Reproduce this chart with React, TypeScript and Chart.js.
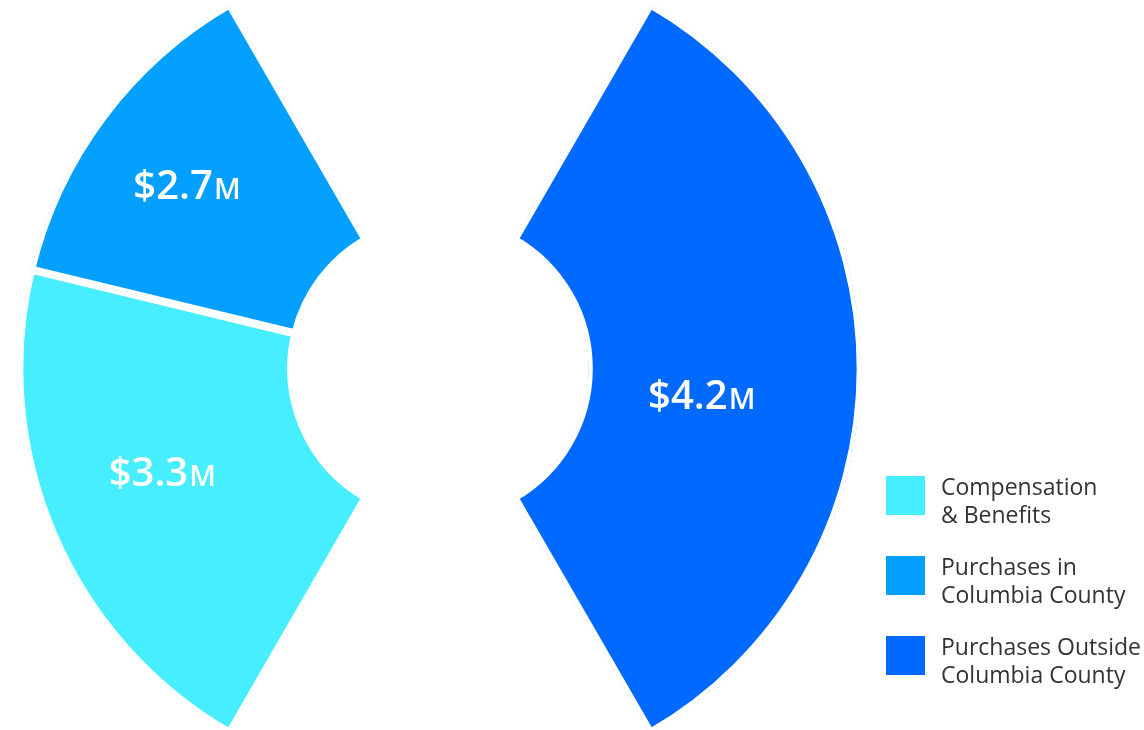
import { useEffect, useRef } from 'react';
import { Chart, registerables } from 'chart.js';

Chart.register(...registerables);

// ---- data ----
const categories: string[][] = [
  ['Compensation', '& Benefits'],
  ['Purchases in', 'Columbia County'],
  ['Purchases Outside', 'Columbia County'],
];
const amounts = [3.3, 2.7, 4.2]; // $ millions
const sweepDegrees = [73.6, 46.4, 120]; // angular share each slice takes in the picture
const gapDegrees = [60, 60]; // empty wedges between the two fans
const colors = ['#47EEFF', '#03A0FF', '#0069FF'];

// ---- styling ----
const labelNudges = [
  [-16, -9],
  [-25, -13],
  [-23, 26],
];
const FONT = '"Open Sans", "Noto Sans", sans-serif';

// ring order: slice0, slice1, gap, slice2, gap
const ringOrder = [0, 1, -1, 2, -1];

export default function App() {
  const ref = useRef<HTMLCanvasElement | null>(null);

  useEffect(() => {
    const canvas = ref.current;
    if (!canvas) return;
    let gi = 0;
    const data = ringOrder.map((ci) => (ci >= 0 ? sweepDegrees[ci] : gapDegrees[gi++]));
    const bg = ringOrder.map((ci) => (ci >= 0 ? colors[ci] : 'rgba(0,0,0,0)'));
    const bw = ringOrder.map((ci) => (ci >= 0 ? 4 : 0));

    const labelPlugin = {
      id: 'sliceLabels',
      afterDatasetsDraw(chart: any) {
        const meta = chart.getDatasetMeta(0);
        const ctx = chart.ctx as CanvasRenderingContext2D;
        ctx.save();
        ctx.fillStyle = '#ffffff';
        ctx.textBaseline = 'alphabetic';
        ctx.textAlign = 'left';
        ringOrder.forEach((ci, i) => {
          if (ci < 0) return;
          const el = meta.data[i];
          const p = el.tooltipPosition(false);
          const cx = p.x + labelNudges[ci][0];
          const cy = p.y + labelNudges[ci][1];
          const main = '$' + amounts[ci].toFixed(1);
          ctx.font = `600 40px ${FONT}`;
          const w1 = ctx.measureText(main).width;
          ctx.font = `600 29px ${FONT}`;
          const w2 = ctx.measureText('M').width + 1;
          const x0 = cx - (w1 + w2) / 2;
          const base = cy + 14.5;
          ctx.font = `600 40px ${FONT}`;
          ctx.fillText(main, x0, base);
          ctx.font = `600 29px ${FONT}`;
          ctx.fillText('M', x0 + w1 + 1, base);
        });
        ctx.restore();
      },
      afterDraw(chart: any) {
        const ctx = chart.ctx as CanvasRenderingContext2D;
        const left = chart.chartArea.right + 6;
        const top = 476;
        ctx.save();
        categories.forEach((lines, i) => {
          const y = top + i * 80;
          ctx.fillStyle = colors[i];
          ctx.fillRect(left, y, 39, 39);
          ctx.fillStyle = '#333333';
          ctx.font = `400 23px ${FONT}`;
          ctx.textBaseline = 'alphabetic';
          ctx.textAlign = 'left';
          lines.forEach((t, j) => {
            ctx.fillText(t, left + 55, y + 19 + j * 28);
          });
        });
        ctx.restore();
      },
    };

    const chart = new Chart(canvas, {
      type: 'doughnut',
      data: {
        labels: ringOrder.map((ci) => (ci >= 0 ? categories[ci].join(' ') : '')),
        datasets: [
          {
            data,
            backgroundColor: bg,
            borderColor: '#ffffff',
            borderWidth: bw,
            borderAlign: 'inner',
            hoverOffset: 0,
          } as any,
        ],
      },
      options: {
        responsive: false,
        animation: false,
        events: [],
        rotation: 210,
        circumference: 360,
        radius: 421,
        cutout: '35.27%',
        layout: { padding: { top: 7, right: 264, left: 0, bottom: 0 } },
        plugins: {
          legend: { display: false },
          tooltip: { enabled: false },
        },
      } as any,
      plugins: [labelPlugin],
    });
    return () => chart.destroy();
  }, []);

  return (
    <div style={{ position: 'fixed', left: 0, top: 0, width: 1144, height: 730, background: '#fff' }}>
      <canvas ref={ref} width={1144} height={730} style={{ display: 'block' }} />
    </div>
  );
}
